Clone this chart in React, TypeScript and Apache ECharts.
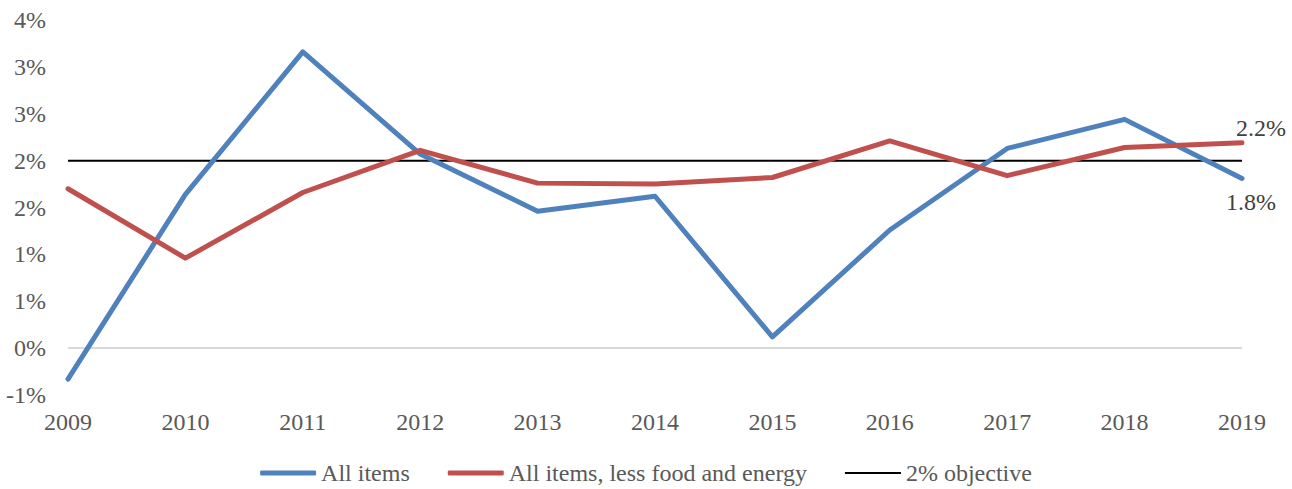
import React, { useEffect, useRef } from "react";
import * as echarts from "echarts";

const years = ["2009", "2010", "2011", "2012", "2013", "2014", "2015", "2016", "2017", "2018", "2019"];
const allItems = [-0.33, 1.64, 3.16, 2.07, 1.46, 1.62, 0.12, 1.26, 2.13, 2.44, 1.81];
const coreItems = [1.7, 0.96, 1.66, 2.11, 1.76, 1.75, 1.82, 2.21, 1.84, 2.14, 2.19];
const objective = [2, 2, 2, 2, 2, 2, 2, 2, 2, 2, 2];

const FONT = "Liberation Serif";
const FS = 24;

export default function App() {
  const ref = useRef<HTMLDivElement>(null);
  useEffect(() => {
    if (!ref.current) return;
    const chart = echarts.init(ref.current, undefined, { renderer: "svg" });
    const last = years.length - 1;
    const withLastLabel = (arr: number[], pos: string, offset: number[], dist: number) =>
      arr.map((v, i) =>
        i === last
          ? {
              value: v,
              label: {
                show: true,
                position: pos,
                distance: dist,
                offset,
                formatter: (p: any) => Number(p.value).toFixed(1) + "%",
                fontFamily: FONT,
                fontSize: FS,
                color: "#404040",
              },
            }
          : v
      );
    chart.setOption({
      animation: false,
      textStyle: { fontFamily: FONT },
      grid: { left: 68, right: 50, top: 20, bottom: 94, containLabel: false },
      legend: {
        top: 461,
        left: "center",
        padding: 0,
        itemWidth: 56,
        itemHeight: 5,
        itemGap: 38,
        textStyle: { fontFamily: FONT, fontSize: FS, color: "#595959" },
        data: [
          { name: "All items", icon: "roundRect", itemStyle: { color: "#4F81BD" } },
          { name: "All items, less food and energy", icon: "roundRect", itemStyle: { color: "#C0504D" } },
          { name: "2% objective", icon: "path://M0,0H56V2H0Z", itemStyle: { color: "#000000" } },
        ],
      },
      xAxis: {
        type: "category",
        data: years,
        boundaryGap: false,
        axisLine: { show: false },
        axisTick: { show: false },
        axisLabel: { fontFamily: FONT, fontSize: FS, color: "#595959", margin: 15 },
        splitLine: { show: false },
      },
      yAxis: {
        type: "value",
        min: -0.5,
        max: 3.5,
        interval: 0.5,
        axisLine: { show: false },
        axisTick: { show: false },
        splitLine: { show: false },
        axisLabel: {
          fontFamily: FONT,
          fontSize: FS,
          color: "#595959",
          margin: 22,
          formatter: (v: number) => {
            const r = v < 0 ? -Math.round(-v + 1e-9) : Math.round(v + 1e-9);
            return r + "%";
          },
        },
      },
      series: [
        {
          name: "All items",
          type: "line",
          data: withLastLabel(allItems, "bottom", [9, 0], 12),
          symbol: "circle",
          symbolSize: 0.01,
          showSymbol: true,
          itemStyle: { color: "#4F81BD" },
          lineStyle: { width: 5, color: "#4F81BD", cap: "round", join: "round" },
          z: 3,
          markLine: {
            silent: true,
            symbol: "none",
            label: { show: false },
            lineStyle: { color: "#D9D9D9", width: 2, type: "solid" },
            data: [{ yAxis: 0 }],
            z: 1,
          },
        },
        {
          name: "All items, less food and energy",
          type: "line",
          data: withLastLabel(coreItems, "top", [19, 0], 3),
          symbol: "circle",
          symbolSize: 0.01,
          showSymbol: true,
          itemStyle: { color: "#C0504D" },
          lineStyle: { width: 5, color: "#C0504D", cap: "round", join: "round" },
          z: 4,
        },
        {
          name: "2% objective",
          type: "line",
          data: objective,
          symbol: "none",
          showSymbol: false,
          itemStyle: { color: "#000000" },
          lineStyle: { width: 2, color: "#000000" },
          z: 2,
        },
      ],
    });
    return () => chart.dispose();
  }, []);
  return (
    <div
      ref={ref}
      style={{ position: "absolute", left: 0, top: 0, width: 1292, height: 489, background: "#ffffff" }}
    />
  );
}
